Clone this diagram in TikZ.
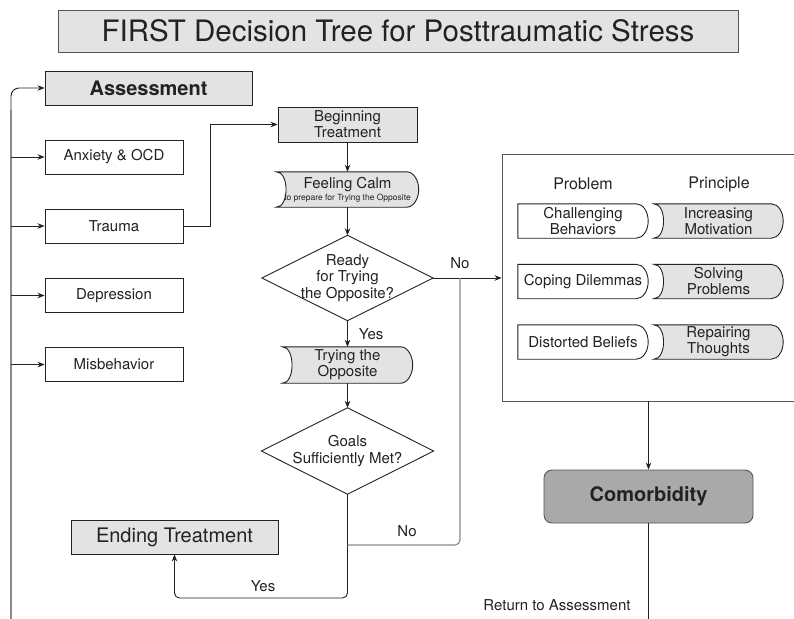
\documentclass[tikz,border=0pt]{standalone}
\usepackage{fontspec}
\setmainfont{TeX Gyre Heros}
\usetikzlibrary{arrows.meta,backgrounds,calc}

\definecolor{boxgray}{HTML}{E3E3E3}
\definecolor{darkfill}{HTML}{A9A9A9}
\definecolor{ink}{HTML}{222222}
\definecolor{wire}{HTML}{8A8A8A}
\definecolor{frame}{HTML}{555555}

% Tab-like outline: concave left side, rounded right end
\newcommand\concaveshape[2]{%
  \filldraw[draw=ink, line width=0.9pt, fill=#2]
    (#1.north west) .. controls ([xshift=13pt]#1.north west) and ([xshift=13pt]#1.south west) .. (#1.south west)
    -- ([xshift=-12pt]#1.south east)
    .. controls ([xshift=-5pt]#1.south east) and ([yshift=-9pt]#1.east) .. (#1.east)
    .. controls ([yshift=9pt]#1.east) and ([xshift=-5pt]#1.north east) .. ([xshift=-12pt]#1.north east)
    -- cycle;}
% Straight left side, rounded right end
\newcommand\flatshape[2]{%
  \filldraw[draw=ink, line width=0.9pt, fill=#2]
    (#1.north west) -- (#1.south west)
    -- ([xshift=-12pt]#1.south east)
    .. controls ([xshift=-5pt]#1.south east) and ([yshift=-9pt]#1.east) .. (#1.east)
    .. controls ([yshift=9pt]#1.east) and ([xshift=-5pt]#1.north east) .. ([xshift=-12pt]#1.north east)
    -- cycle;}
% Decision diamond through the four side anchors
\newcommand\decision[1]{%
  \filldraw[draw=ink, line width=0.9pt, fill=white]
    (#1.north) -- (#1.east) -- (#1.south) -- (#1.west) -- cycle;}

\begin{document}
\begin{tikzpicture}[x=1pt, y=-1pt,
  font=\fontsize{15}{16}\selectfont,
  box/.style={draw=ink, line width=0.9pt, minimum height=34pt, inner sep=0pt, align=center, text=ink},
  gbox/.style={box, fill=boxgray},
  textonly/.style={inner sep=0pt, align=center, text=ink},
  lbl/.style={inner sep=0pt, text=ink},
  arr/.style={draw=ink, line width=0.9pt, -{Stealth[length=7pt,width=5.5pt]}},
  link/.style={draw=ink, line width=0.9pt},
  wireline/.style={draw=wire, line width=1.4pt}]

\useasboundingbox (0,0) rectangle (794,618);
\clip (0,0) rectangle (794,618);

% Title
\node[gbox, draw=frame, minimum width=680pt, minimum height=42pt,
      font=\fontsize{29.5}{32}\selectfont] (title) at (398,31)
      {FIRST Decision Tree for Posttraumatic Stress};

% Assessment column
\node[gbox, minimum width=207pt, font=\bfseries\fontsize{20}{22}\selectfont] (assess) at (148.5,88) {Assessment};
\node[box, minimum width=138pt] (anx)    at (114,157)   {Anxiety \& OCD};
\node[box, minimum width=138pt] (trauma) at (114,226)   {Trauma};
\node[box, minimum width=138pt] (dep)    at (114,295.5) {Depression};
\node[box, minimum width=138pt] (misb)   at (114,364.5) {Misbehavior};

% Treatment flow
\node[gbox, minimum width=139pt, minimum height=35pt] (begin) at (347.5,124.5) {Beginning\\Treatment};
\node[textonly, minimum width=142pt, minimum height=35pt] (calm) at (347.5,189.5)
  {Feeling Calm\\[-4pt]\fontsize{8.5}{9}\selectfont to prepare for Trying the Opposite};
\node[textonly, minimum width=171pt, minimum height=85pt, font=\fontsize{15}{16.5}\selectfont] (ready) at (347.5,278)
  {Ready\\for Trying\\the Opposite?};
\node[textonly, minimum width=130pt, minimum height=36pt] (trying) at (347.5,365) {Trying the\\Opposite};
\node[textonly, minimum width=172pt, minimum height=86pt, font=\fontsize{15}{17}\selectfont] (goals) at (347.5,451)
  {Goals\\Sufficiently Met?};
\node[gbox, minimum width=207pt, font=\fontsize{20}{22}\selectfont] (ending) at (174.5,537) {Ending Treatment};

% Problem / principle panel
\node[draw=frame, line width=0.9pt, minimum width=330pt, minimum height=247pt, inner sep=0pt] (panel) at (667,277.5) {};
\node[lbl, font=\fontsize{16}{18}\selectfont] (hprob) at (583,184) {Problem};
\node[lbl, font=\fontsize{16}{18}\selectfont] (hprin) at (719,184) {Principle};
\node[textonly, minimum width=130pt, minimum height=34pt] (p1) at (583,221)   {Challenging\\Behaviors};
\node[textonly, minimum width=130pt, minimum height=34pt] (p2) at (583,281.5) {Coping Dilemmas};
\node[textonly, minimum width=130pt, minimum height=34pt] (p3) at (583,342)   {Distorted Beliefs};
\node[textonly, minimum width=129pt, minimum height=34pt] (q1) at (718.5,221)   {Increasing\\Motivation};
\node[textonly, minimum width=129pt, minimum height=34pt] (q2) at (718.5,281.5) {Solving\\Problems};
\node[textonly, minimum width=129pt, minimum height=34pt] (q3) at (718.5,342)   {Repairing\\Thoughts};

% Comorbidity
\node[draw=frame, line width=0.9pt, fill=darkfill, rounded corners=8pt, minimum width=209pt, minimum height=53pt,
      font=\bfseries\fontsize{20}{22}\selectfont, text=ink] (comorb) at (648.5,496.5) {Comorbidity};
\node[lbl] (ret) at (557,605) {Return to Assessment};

% Outlines drawn behind the text
\begin{pgfonlayer}{background}
  \concaveshape{calm}{boxgray}
  \concaveshape{trying}{boxgray}
  \decision{ready}
  \decision{goals}
  \flatshape{p1}{white}
  \flatshape{p2}{white}
  \flatshape{p3}{white}
  \concaveshape{q1}{boxgray}
  \concaveshape{q2}{boxgray}
  \concaveshape{q3}{boxgray}
\end{pgfonlayer}

% Return bus on the left
\coordinate (busbot) at (11,640);
\coordinate (bustop) at (11,110);
\draw[wireline] (busbot) -- (bustop);
\draw[arr, rounded corners=8pt] (bustop) |- (assess.west);
\foreach \n in {anx,trauma,dep,misb}
  \draw[arr] (\n.west -| busbot) -- (\n.west);

% Main flow
\draw[arr] (trauma.east) -- ++(27,0) |- (begin.west);
\draw[arr] (begin.south) -- (calm.north);
\draw[arr] (calm.south) -- (ready.north);
\draw[arr] (ready.south) -- node[lbl, right=11pt] {Yes} (trying.north);
\draw[arr] (trying.south) -- (goals.north);

% "No" branch to the panel
\coordinate (joinNo) at (460,278);
\draw[arr] (ready.east) -- node[lbl, pos=0.39, above=9pt] {No} (ready.east -| panel.west);

% Goals outcome
\coordinate (yesrow) at (0,598);
\coordinate (norow) at (0,545);
\draw[arr, rounded corners=5pt] (goals.south) -- (goals.south |- yesrow) -| (ending.south);
\node[lbl] (yeslbl) at (263,586) {Yes};
\draw[wireline, line width=1.2pt, rounded corners=5pt] (goals.south |- norow) -| (joinNo);
\node[lbl] (nolbl) at (407,531) {No};

% Panel to comorbidity and back
\draw[arr] (comorb.north |- panel.south) -- (comorb.north);
\draw[link] (comorb.south) -- (comorb.south |- busbot);
\end{tikzpicture}
\end{document}
